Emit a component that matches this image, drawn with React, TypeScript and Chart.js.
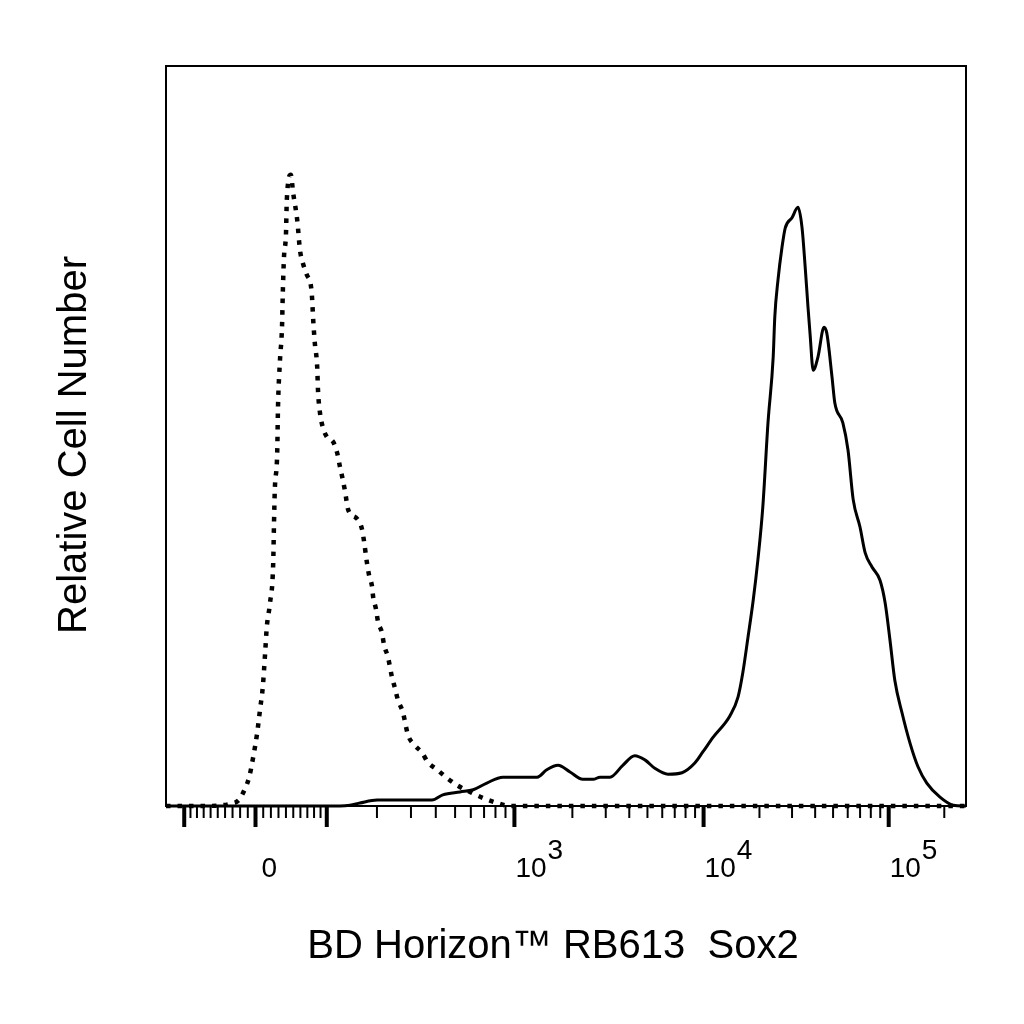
import { useEffect, useRef } from "react";
import { Chart, registerables } from "chart.js";
import type { ChartConfiguration, Plugin } from "chart.js";

Chart.register(...registerables);

// histogram bins are display channels, 0..1000 across the biexponential axis
const ISOTYPE_CH = [
  0, 42, 70, 80, 91, 99, 104, 109, 114, 117.5,
  121, 124, 126, 130, 134, 135, 136, 139, 140, 142.5,
  145, 146, 147.5, 150, 151, 156, 159, 164, 167.5, 171,
  176, 181, 182.5, 184, 186, 189, 190, 192.5, 196, 201,
  209, 214, 217.5, 221, 224, 227.5, 239, 245, 247.5, 251,
  254, 257.5, 259, 262.5, 265, 270, 272.5, 277.5, 282.5, 286,
  290, 296, 302.5, 311, 320, 327.5, 339, 351, 364, 380,
  396, 414, 430, 467, 1000,
];
const ISOTYPE_COUNT = [
  0, 0, 0.1, 0.3, 0.8, 2.4, 3.9, 6.6, 9.9, 13.0,
  16.1, 20.8, 24.2, 27.4, 32.8, 38.2, 42.7, 47.7, 53.9, 60.3,
  64.7, 69.3, 74.2, 77.4, 81.9, 85.3, 82.8, 79.2, 75.1, 73.4,
  71.8, 70.4, 68.8, 65.7, 62.6, 59.3, 56.2, 53.1, 51.2, 49.9,
  49.2, 47.7, 45.8, 44.1, 42.4, 40.1, 38.8, 37.4, 35.8, 33.0,
  31.1, 29.7, 28.2, 26.6, 24.9, 23.4, 21.8, 20.1, 17.4, 16.0,
  14.3, 12.7, 9.6, 8.2, 7.2, 5.9, 4.9, 3.8, 2.8, 1.9,
  1.1, 0.4, 0, 0, 0,
];

const SOX2_CH = [
  0, 217.5, 230, 242.5, 264, 332.5, 346, 367.5, 384, 401,
  421, 464, 476, 490, 505, 521, 534, 542.5, 555, 571,
  586, 599, 611, 627.5, 645, 661, 671, 684, 705, 715,
  721, 727.5, 734, 740, 746, 752.5, 759, 761, 765, 770,
  774, 782.5, 790, 795, 799, 802.5, 805, 809, 815, 822.5,
  826, 832.5, 836, 846, 852.5, 859, 867.5, 874, 882.5, 892.5,
  899, 905, 911, 920, 930, 940, 951, 967.5, 984, 996,
  1000,
];
const SOX2_COUNT = [
  0, 0, 0.1, 0.4, 0.8, 0.8, 1.5, 1.9, 2.2, 3.1,
  3.9, 3.9, 4.9, 5.5, 4.6, 3.6, 3.6, 3.9, 3.9, 5.5,
  6.8, 6.2, 5.1, 4.3, 4.5, 5.8, 7.3, 9.3, 12.2, 14.7,
  18.0, 22.8, 27.8, 33.4, 40.4, 51.8, 60.7, 66.1, 71.1, 75.5,
  78.1, 79.5, 80.9, 78.2, 72.8, 67.4, 63.9, 58.9, 60.7, 64.7,
  63.9, 58.0, 54.5, 51.8, 48.1, 41.4, 37.7, 34.2, 32.3, 30.5,
  27.4, 22.4, 17.0, 12.6, 8.5, 5.3, 3.1, 1.2, 0.1, 0,
  0,
];

// tick values in fluorescence units
const MAJOR_TICKS = [-100, 0, 100, 1000, 10000, 100000];
const MINOR_TICKS = [
  -90, -80, -70, -60, -50, -40, -30, -20, -10,
  10, 20, 30, 40, 50, 60, 70, 80, 90,
  200, 300, 400, 500, 600, 700, 800, 900,
  2000, 3000, 4000, 5000, 6000, 7000, 8000, 9000,
  20000, 30000, 40000, 50000, 60000, 70000, 80000, 90000,
  200000,
];
const LABEL_VALUES = [0, 1000, 10000, 100000];
const LABEL_BASES = ["0", "10", "10", "10"];
const LABEL_EXPS = ["", "3", "4", "5"];

const X_TITLE = "BD Horizon\u2122 RB613  Sox2";
const Y_TITLE = "Relative Cell Number";

// logicle (biexponential) display transform
const LG_T = 262144;
const LG_W = 0.33 * Math.LN10;
const LG_M = 4.18 * Math.LN10;
const LG_A = 0.155 * Math.LN10;

function solveP(w: number) {
  let lo = 1, hi = 100;
  for (let i = 0; i < 100; i++) {
    const mid = (lo + hi) / 2;
    if ((2 * mid * Math.log(mid)) / (mid + 1) < w) lo = mid;
    else hi = mid;
  }
  return (lo + hi) / 2;
}
const LG_P = solveP(LG_W);

function biex(x: number): number {
  if (x < LG_W) return -biex(2 * LG_W - x);
  const k = LG_T * Math.exp(-(LG_M - LG_W));
  const p2 = LG_P * LG_P;
  return k * (Math.exp(x - LG_W) - p2 * Math.exp(-(x - LG_W) / LG_P) + p2 - 1);
}

function toChannel(v: number) {
  let lo = -LG_A - 10, hi = LG_M + 2;
  for (let i = 0; i < 90; i++) {
    const mid = (lo + hi) / 2;
    if (biex(mid) < v) lo = mid;
    else hi = mid;
  }
  const x = (lo + hi) / 2;
  return (1000 * (x + LG_A)) / (LG_M + LG_A);
}

const FONT = '"Liberation Sans", Arial, Helvetica, sans-serif';

const cytoAxis: Plugin<"line"> = {
  id: "cytoAxis",
  afterDraw(chart) {
    const { ctx, chartArea: area } = chart;
    const xs = chart.scales.x;
    const px = (v: number) => xs.getPixelForValue(toChannel(v));
    ctx.save();
    ctx.strokeStyle = "#000";
    ctx.fillStyle = "#000";

    // frame
    ctx.lineWidth = 2;
    ctx.strokeRect(area.left, area.top, area.right - area.left, area.bottom - area.top);

    // ticks
    const tick = (v: number, len: number, width: number) => {
      const x = px(v);
      ctx.lineWidth = width;
      ctx.beginPath();
      ctx.moveTo(x, area.bottom);
      ctx.lineTo(x, area.bottom + len);
      ctx.stroke();
    };
    MINOR_TICKS.forEach((v) => tick(v, 12, 2));
    MAJOR_TICKS.forEach((v) => tick(v, 21, 4));

    // tick labels, base + superscript
    ctx.textAlign = "left";
    ctx.textBaseline = "alphabetic";
    LABEL_VALUES.forEach((v, i) => {
      const x = px(v);
      const base = LABEL_BASES[i];
      const exp = LABEL_EXPS[i];
      ctx.font = `28px ${FONT}`;
      const bx = exp ? x + 1 : x + 6;
      ctx.fillText(base, bx, area.bottom + 71);
      if (exp) {
        const w = ctx.measureText(base).width;
        ctx.font = `28px ${FONT}`;
        ctx.fillText(exp, bx + w + 1, area.bottom + 53);
      }
    });

    // axis titles
    ctx.font = `40px ${FONT}`;
    ctx.textAlign = "center";
    ctx.fillText(X_TITLE, area.left + 387, area.bottom + 152);
    ctx.save();
    ctx.translate(area.left - 80, (area.top + area.bottom) / 2 + 9);
    ctx.rotate(-Math.PI / 2);
    ctx.fillText(Y_TITLE, 0, 0);
    ctx.restore();

    ctx.restore();
  },
};

export default function App() {
  const canvasRef = useRef<HTMLCanvasElement | null>(null);

  useEffect(() => {
    const ctx = canvasRef.current!.getContext("2d")!;
    const isotype = ISOTYPE_CH.map((x, i) => ({ x, y: ISOTYPE_COUNT[i] }));
    const sox2 = SOX2_CH.map((x, i) => ({ x, y: SOX2_COUNT[i] }));

    const config: ChartConfiguration<"line"> = {
      type: "line",
      data: {
        datasets: [
          {
            label: "Isotype",
            data: isotype,
            borderColor: "#000",
            borderWidth: 4.5,
            borderDash: [4.5, 7],
            borderCapStyle: "butt",
            pointRadius: 0,
            cubicInterpolationMode: "monotone",
            fill: false,
            clip: false,
          } as any,
          {
            label: "Sox2",
            data: sox2,
            borderColor: "#000",
            borderWidth: 3,
            borderJoinStyle: "round",
            pointRadius: 0,
            cubicInterpolationMode: "monotone",
            fill: false,
            clip: false,
          } as any,
        ],
      },
      options: {
        responsive: true,
        maintainAspectRatio: false,
        animation: false,
        layout: { padding: { left: 166, right: 58, top: 66, bottom: 218 } },
        plugins: {
          legend: { display: false },
          tooltip: { enabled: false },
        },
        scales: {
          x: { type: "linear", min: 0, max: 1000, display: false },
          y: { type: "linear", min: 0, max: 100, display: false },
        },
      },
      plugins: [cytoAxis],
    };

    const chart = new Chart(ctx, config);
    return () => chart.destroy();
  }, []);

  return (
    <div style={{ position: "fixed", left: 0, top: 0, width: 1024, height: 1024, background: "#fff" }}>
      <canvas ref={canvasRef} />
    </div>
  );
}
